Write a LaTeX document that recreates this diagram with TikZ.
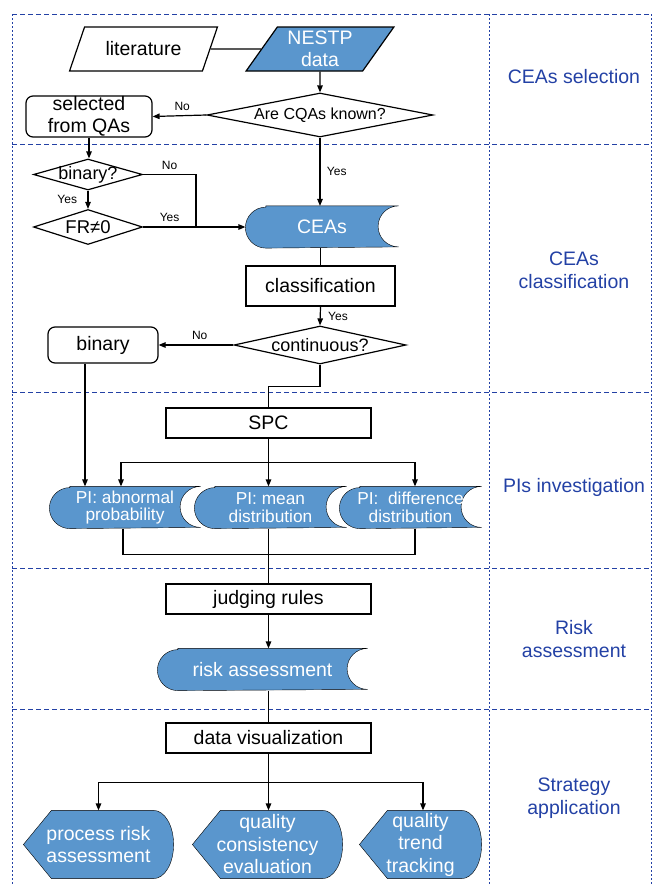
\documentclass[tikz,border=0pt]{standalone}
\usepackage{fontspec}
\setmainfont{Liberation Sans}
\usetikzlibrary{positioning, arrows.meta, shapes.geometric, backgrounds}
\definecolor{boxblue}{RGB}{90,150,205}
\definecolor{laneblue}{RGB}{35,65,165}
\newcommand{\zerow}[1]{\makebox[0pt]{#1}}

\begin{document}
\begin{tikzpicture}[x=1pt, y=1pt, line width=1.2pt, >={Triangle[length=7pt,width=5.5pt]},
  mainfont/.style={font=\fontsize{19.5}{21.5}\selectfont},
  proc/.style={draw, rectangle, mainfont, inner sep=0pt, align=center},
  soft/.style={proc, rounded corners=7pt},
  io/.style={draw, trapezium, trapezium left angle=56, trapezium right angle=124, trapezium stretches=true, minimum width=148, minimum height=44, inner sep=0pt, mainfont, align=center},
  deci/.style={draw, diamond, inner sep=0pt},
  store/.style={rectangle, inner sep=0pt, minimum height=41, text=white, align=center},
  disp/.style={rectangle, inner sep=0pt, minimum height=67, text=white, align=center, font=\fontsize{19.5}{22.5}\selectfont},
  yn/.style={font=\fontsize{12}{14}\selectfont},
  lane/.style={text=laneblue, align=center, font=\fontsize{19.5}{23}\selectfont},
  rowline/.style={laneblue, line width=0.9pt, dash pattern=on 5pt off 3pt},
  colline/.style={laneblue, line width=0.9pt, dash pattern=on 2pt off 2pt}]
\useasboundingbox (0,0) rectangle (653,-886);

% lanes
\foreach \y in {14,144,392,568,709}
  \draw[rowline] (12,-\y) -- (651,-\y);
\foreach \x in {12,489,651}
  \draw[colline] (\x,-14) -- (\x,-886);
\node[lane] (lsel) at (574,-77) {CEAs selection};
\node[lane] (lcls) at (574,-270) {CEAs\\classification};
\node[lane] (lpis) at (574,-487) {PIs investigation};
\node[lane] (lrisk) at (574,-639) {Risk\\assessment};
\node[lane] (lstr) at (574,-798) {Strategy\\application};

% CEAs selection
\node[io] (lit) at (143.5,-49) {literature};
\node[io, fill=boxblue, text=white] (nestp) at (320,-49) {NESTP\\data};
\node[deci, minimum width=226, minimum height=44, font=\fontsize{16}{18}\selectfont] (cqa) at (320,-115) {\zerow{Are CQAs known?}};
\node[soft, minimum width=126, minimum height=41] (sel) at (89,-116.5) {selected\\from QAs};
\draw (lit.east) -- (nestp.west);
\draw[->] (nestp.south) -- (cqa.north);
\draw[->] (cqa.west) -- node[yn, above=1pt, pos=0.45] {No} (sel.east);

% CEAs classification
\node[deci, minimum width=109, minimum height=31, font=\fontsize{18}{20}\selectfont] (bin) at (88,-174.5) {\zerow{binary?}};
\node[deci, minimum width=109, minimum height=35, font=\fontsize{18.5}{20}\selectfont] (fr) at (88,-227) {\zerow{FR≠0}};
\node[store, mainfont, minimum width=152] (cea) at (322,-227) {CEAs};
\node[proc, minimum width=149, minimum height=40] (cls) at (320.5,-286) {classification};
\node[deci, minimum width=172, minimum height=38, font=\fontsize{18}{20}\selectfont] (cont) at (320,-345) {\zerow{continuous?}};
\node[soft, minimum width=110, minimum height=36] (bnr) at (103,-345) {binary};
\coordinate (join) at (196,-227);
\draw[->] (sel.south) -- (sel.south |- bin.north);
\draw[->] (bin.south) -- node[yn, left=7pt] {Yes} (fr.north);
\draw (bin.east) -- node[yn, above=1pt] {No} (bin.east -| join) -- (join);
\draw[->] (fr.east) -- node[yn, above=1pt] {Yes} (join) -- (cea.west);
\draw[->] (cqa.south) -- node[yn, right=3pt] {Yes} (cqa.south |- cea.north);
\draw (cls.north |- cea.south) -- (cls.north);
\draw[->] (cls.south) -- node[yn, right=4pt] {Yes} (cont.north);
\draw[->] (cont.west) -- node[yn, above=1pt, pos=0.45] {No} (bnr.east);

% PIs investigation
\node[proc, minimum width=205, minimum height=30] (spc) at (268.5,-423) {SPC};
\node[store, font=\fontsize{17.3}{17.8}\selectfont, minimum width=150] (pia) at (125,-507.5) {PI: abnormal\\probability};
\node[store, font=\fontsize{17.3}{17.8}\selectfont, minimum width=151] (pib) at (270.5,-507.5) {PI: mean\\distribution};
\node[store, font=\fontsize{17.3}{17.8}\selectfont, minimum width=141] (pic) at (410.5,-507.5) {PI:\ \ difference\\distribution};
\draw (cont.south) -- ++(0,-22) -| (spc.north);
\draw[->] ([xshift=-18pt]bnr.south) -- ([xshift=-18pt]bnr.south |- pia.north);
\draw[->] (spc.south) -- (spc.south |- pib.north);
\draw[->] ([yshift=-24pt]spc.south) -| ([xshift=-4pt]pia.north);
\draw[->] ([yshift=-24pt]spc.south) -| ([xshift=4.5pt]pic.north);
\draw ([xshift=-2pt]pia.south) -- ++(0,-26) -| ([xshift=4.5pt]pic.south);

% Risk assessment
\node[proc, minimum width=205, minimum height=30] (jr) at (268.5,-599) {judging rules};
\node[store, mainfont, minimum width=209] (risk) at (262.5,-669.5) {risk assessment};
\draw (jr.north |- pib.south) -- (jr.north);
\draw[->] (jr.south) -- (jr.south |- risk.north);

% Strategy application
\node[proc, minimum width=205, minimum height=30] (dv) at (268.5,-738) {data visualization};
\node[disp, minimum width=149] (pra) at (98.5,-844.5) {process risk\\assessment};
\node[disp, minimum width=149] (qce) at (267.5,-844.5) {quality\\consistency\\evaluation};
\node[disp, minimum width=121] (qtt) at (420.5,-844.5) {quality\\trend\\tracking};
\draw (dv.north |- risk.south) -- (dv.north);
\draw[->] (dv.south) -- (dv.south |- qce.north);
\draw[->] ([yshift=-29pt]dv.south) -| (pra.north);
\draw[->] ([yshift=-29pt]dv.south) -| ([xshift=2.5pt]qtt.north);

\begin{scope}[on background layer]
  \foreach \s in {cea,pia,pib,pic,risk}
    \draw[fill=boxblue] ([xshift=20.5pt]\s.north west) -- (\s.north east)
      arc[start angle=90, end angle=270, radius=20.5pt]
      -- ([xshift=20.5pt]\s.south west)
      arc[start angle=270, end angle=90, radius=20.5pt] -- cycle;
  \foreach \s in {pra,qce,qtt}
    \draw[fill=boxblue] (\s.west) -- ([xshift=28pt]\s.north west)
      -- ([xshift=-20pt]\s.north east)
      .. controls ([xshift=-9pt]\s.north east) and ([yshift=-15pt]\s.north east) .. (\s.east)
      .. controls ([yshift=15pt]\s.south east) and ([xshift=-9pt]\s.south east) .. ([xshift=-20pt]\s.south east)
      -- ([xshift=28pt]\s.south west) -- cycle;
\end{scope}
\end{tikzpicture}
\end{document}
